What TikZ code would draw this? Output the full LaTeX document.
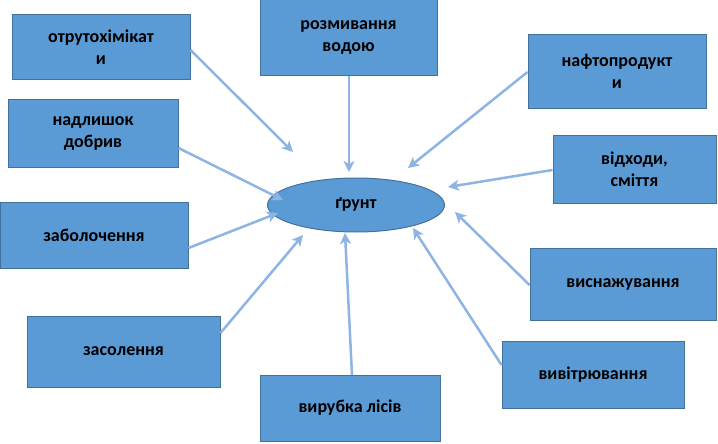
\documentclass[tikz,border=0pt]{standalone}
\usepackage{fontspec}
\setmainfont{Carlito}
\usetikzlibrary{arrows.meta,shapes.geometric}
\definecolor{boxfill}{HTML}{5B9BD5}
\definecolor{boxline}{HTML}{41719C}
\definecolor{arr}{HTML}{8EB4E3}
\tikzset{
 box/.style={draw=boxline,fill=boxfill,line width=1pt,minimum width=#1,minimum height=68pt,align=center,font=\fontsize{18}{22}\selectfont\bfseries,inner sep=2pt},
 conn/.style={draw=arr,line width=2.5pt,-{Stealth[length=11pt,width=11pt,inset=3pt]}}
}
\begin{document}
\begin{tikzpicture}[x=1pt,y=-1pt]
\useasboundingbox (0,0) rectangle (718,444);
\node[draw=boxline,fill=boxfill,line width=1pt,ellipse,minimum width=177pt,minimum height=54pt,font=\fontsize{18}{22}\selectfont\bfseries] (g) at (356,205) {ґрунт};
\node[box=178pt,minimum height=65pt] (b1) at (101,47.5) {отрутохімікат\\и};
\node[box=177pt,minimum height=76pt] (b2) at (348.5,38) {розмивання\\водою};
\node[box=178pt,minimum height=73pt] (b3) at (617,71.5) {нафтопродукт\\и};
\node[box=170pt,minimum height=67pt] (b4) at (93,133.5) {надлишок\\добрив};
\node[box=163pt,minimum height=68pt] (b5) at (634.5,169) {відходи,\\сміття};
\node[box=188pt,minimum height=66pt] (b6) at (94,235) {заболочення};
\node[box=186pt,minimum height=72pt] (b7) at (623,284) {виснажування};
\node[box=193pt,minimum height=71pt] (b8) at (123.5,351.5) {засолення};
\node[box=182pt,minimum height=67pt] (b9) at (593,374.5) {вивітрювання};
\node[box=180pt,minimum height=66pt] (b10) at (350,408) {вирубка лісів};
\coordinate (t1) at (293,152);
\coordinate (t2) at (349,172);
\coordinate (t3) at (408,168);
\coordinate (t4) at (283,200);
\coordinate (t5) at (448,187);
\coordinate (t6) at (278,213);
\coordinate (t7) at (455,212);
\coordinate (t8) at (303,235);
\coordinate (t9) at (413,228);
\coordinate (t10) at (345,233);
\draw[conn] (b1.east |- 0,50) -- (t1);
\draw[conn] (349,76) -- (t2);
\draw[conn] (b3.west |- 0,72) -- (t3);
\draw[conn] (b4.east |- 0,148) -- (t4);
\draw[conn] (b5.west |- 0,170) -- (t5);
\draw[conn] (b6.east |- 0,248) -- (t6);
\draw[conn] (b7.west |- 0,285) -- (t7);
\draw[conn] (b8.east |- 0,333) -- (t8);
\draw[conn] (b9.west |- 0,365) -- (t9);
\draw[conn] (352,375) -- (t10);
\end{tikzpicture}
\end{document}
